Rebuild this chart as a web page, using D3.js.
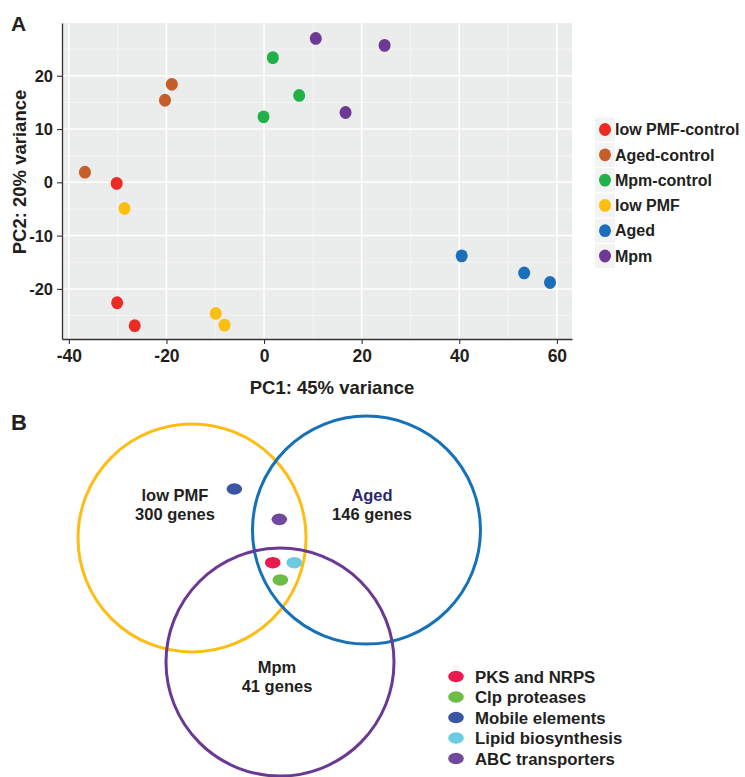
<!DOCTYPE html>
<html>
<head>
  <meta charset="UTF-8">
  <style>
    *{ margin: 0px; }
    body{ background: white; }
    svg{
      position: absolute;
      font-family: "Liberation Sans", Arial, sans-serif;
      font-weight: bold;
    }
  </style>
  <script src="https://d3js.org/d3.v7.min.js"></script>
</head>
<body>
  <svg id="fig" width="745" height="777"></svg>

  <script>
    // ---- panel A data (PCA) ----
    var groups = ["low PMF-control", "Aged-control", "Mpm-control", "low PMF", "Aged", "Mpm"];
    var groupColors = ["#ee2a24", "#c55e28", "#21b14b", "#fbbf14", "#1b6eb9", "#6d3995"];

    var pointGroup = ["Aged-control", "Aged-control", "Aged-control",
      "low PMF-control", "low PMF-control", "low PMF-control",
      "low PMF", "low PMF", "low PMF",
      "Mpm-control", "Mpm-control", "Mpm-control",
      "Mpm", "Mpm", "Mpm",
      "Aged", "Aged", "Aged"];
    var pc1 = [-36.7, -20.3, -18.9, -30.2, -30.1, -26.5, -28.6, -9.9, -8.1, 1.8, -0.1, 7.2, 10.6, 24.7, 16.7, 40.5, 53.3, 58.6];
    var pc2 = [1.9, 15.4, 18.4, -0.2, -22.6, -26.9, -4.9, -24.6, -26.8, 23.4, 12.3, 16.3, 27.0, 25.7, 13.1, -13.8, -17.0, -18.8];

    var xTicks = [-40, -20, 0, 20, 40, 60];
    var yTicks = [-20, -10, 0, 10, 20];

    // ---- panel B data (Venn) ----
    var sets = ["low PMF", "Aged", "Mpm"];
    var setCounts = [300, 146, 41];
    var setColors = ["#fdbd14", "#1571b8", "#6a3994"];
    var setLabelColors = ["#231f20", "#2c2a6b", "#231f20"];

    var families = ["PKS and NRPS", "Clp proteases", "Mobile elements", "Lipid biosynthesis", "ABC transporters"];
    var familyColors = ["#ea1a4f", "#6cbc45", "#3a55a4", "#6acbe2", "#6f4a9d"];

    var svg = d3.select("#fig");
    var ink = "#231f20";

    // ================= Panel A =================
    var pl = 62, pr = 572, pt = 23, pb = 339;

    var x = d3.scaleLinear().domain([-41.4, 63.1]).range([pl, pr]);
    var y = d3.scaleLinear().domain([-29.4, 29.9]).range([pb, pt]);

    var color = d3.scaleOrdinal().domain(groups).range(groupColors);

    var panelA = svg.append("g");

    panelA.append("rect")
      .attr("x", pl).attr("y", pt)
      .attr("width", pr - pl).attr("height", pb - pt)
      .attr("fill", "#ebecec");

    // minor grid
    var xMinor = d3.range(-30, 61, 20);
    var yMinor = d3.range(-25, 30, 10);
    panelA.append("g").selectAll("line").data(xMinor).enter().append("line")
      .attr("x1", d => x(d)).attr("x2", d => x(d))
      .attr("y1", pt).attr("y2", pb)
      .attr("stroke", "#f6f6f6").attr("stroke-width", 0.8);
    panelA.append("g").selectAll("line").data(yMinor).enter().append("line")
      .attr("y1", d => y(d)).attr("y2", d => y(d))
      .attr("x1", pl).attr("x2", pr)
      .attr("stroke", "#f6f6f6").attr("stroke-width", 0.8);

    // major grid
    panelA.append("g").selectAll("line").data(xTicks).enter().append("line")
      .attr("x1", d => x(d)).attr("x2", d => x(d))
      .attr("y1", pt).attr("y2", pb)
      .attr("stroke", "white").attr("stroke-width", 1.5);
    panelA.append("g").selectAll("line").data(yTicks).enter().append("line")
      .attr("y1", d => y(d)).attr("y2", d => y(d))
      .attr("x1", pl).attr("x2", pr)
      .attr("stroke", "white").attr("stroke-width", 1.5);

    // axes (plain hyphen for negatives, like the original)
    var fmt = d => String(d);
    var xAxis = panelA.append("g")
      .attr("transform", "translate(0," + pb + ")")
      .call(d3.axisBottom(x).tickValues(xTicks).tickFormat(fmt).tickSize(5).tickPadding(6).tickSizeOuter(0));
    var yAxis = panelA.append("g")
      .attr("transform", "translate(" + pl + ",0)")
      .call(d3.axisLeft(y).tickValues(yTicks).tickFormat(fmt).tickSize(5).tickPadding(4).tickSizeOuter(0));

    [xAxis, yAxis].forEach(function(a){
      a.select(".domain").attr("stroke", "#333").attr("stroke-width", 1.3);
      a.selectAll(".tick line").attr("stroke", "#333").attr("stroke-width", 1.1);
      a.selectAll(".tick text")
        .attr("fill", ink)
        .attr("font-family", "'Liberation Sans', Arial, sans-serif")
        .attr("font-weight", "bold");
    });
    xAxis.selectAll(".tick text").attr("font-size", "17.5px");
    yAxis.selectAll(".tick text").attr("font-size", "16.5px").attr("dy", "0.34em");

    // points
    panelA.append("g").selectAll("ellipse")
      .data(pc1.map((d, i) => ({pc1: d, pc2: pc2[i], group: pointGroup[i]})))
      .enter().append("ellipse")
      .attr("cx", d => x(d.pc1))
      .attr("cy", d => y(d.pc2))
      .attr("rx", 6).attr("ry", 6.4)
      .attr("fill", d => color(d.group));

    // axis titles
    panelA.append("text")
      .attr("x", 332).attr("y", 394)
      .attr("text-anchor", "middle")
      .attr("font-size", "18.5px")
      .attr("fill", ink)
      .text("PC1: 45% variance");
    panelA.append("text")
      .attr("transform", "translate(26,172) rotate(-90)")
      .attr("text-anchor", "middle")
      .attr("font-size", "18.5px")
      .attr("fill", ink)
      .text("PC2: 20% variance");

    panelA.append("text")
      .attr("x", 11).attr("y", 31)
      .attr("font-size", "21px")
      .attr("fill", ink)
      .text("A");

    // legend A
    var legA = panelA.append("g").selectAll("g")
      .data(groups).enter().append("g")
      .attr("transform", (d, i) => "translate(595," + (129.5 + i * 25.3) + ")");
    legA.append("rect")
      .attr("x", 0).attr("y", -12)
      .attr("width", 20).attr("height", 24)
      .attr("fill", "#f2f3f3");
    legA.append("ellipse")
      .attr("cx", 10).attr("cy", 0)
      .attr("rx", 6).attr("ry", 6.4)
      .attr("fill", d => color(d));
    legA.append("text")
      .attr("x", 20).attr("y", 0)
      .attr("dy", "0.36em")
      .attr("font-size", "16px")
      .attr("fill", ink)
      .text(d => d);

    // ================= Panel B =================
    var panelB = svg.append("g");

    panelB.append("text")
      .attr("x", 11).attr("y", 430)
      .attr("font-size", "22px")
      .attr("fill", ink)
      .text("B");

    // Venn layout in circle-radius units
    var rad = 115;
    var vx = d3.scaleLinear().domain([-1, 1]).range([280 - rad, 280 + rad]);
    var vy = d3.scaleLinear().domain([-1, 1]).range([575 - rad, 575 + rad]);

    var circleX = [-0.765, 0.752, 0.0];
    var circleY = [-0.322, -0.391, 0.757];
    var labelX = [-0.913, 0.80, -0.026];
    var labelY = [-0.646, -0.646, 0.85];

    panelB.append("g").selectAll("circle")
      .data(sets).enter().append("circle")
      .attr("cx", (d, i) => vx(circleX[i]))
      .attr("cy", (d, i) => vy(circleY[i]))
      .attr("r", vx(1) - vx(0) - 1)
      .attr("fill", "none")
      .attr("stroke", (d, i) => setColors[i])
      .attr("stroke-width", 3);

    var setLabels = panelB.append("g").selectAll("text")
      .data(sets).enter().append("text")
      .attr("text-anchor", "middle")
      .attr("font-size", "16.5px")
      .attr("fill", ink);
    setLabels.append("tspan")
      .attr("x", (d, i) => vx(labelX[i]))
      .attr("y", (d, i) => vy(labelY[i]))
      .attr("fill", (d, i) => setLabelColors[i])
      .text(d => d);
    setLabels.append("tspan")
      .attr("x", (d, i) => vx(labelX[i]))
      .attr("y", (d, i) => vy(labelY[i]) + 19.5)
      .text((d, i) => setCounts[i] + " genes");

    // family dots inside the Venn
    var famX = [-0.063, 0.003, -0.397, 0.124, -0.006];
    var famY = [-0.107, 0.043, -0.748, -0.107, -0.484];
    panelB.append("g").selectAll("ellipse")
      .data(families).enter().append("ellipse")
      .attr("cx", (d, i) => vx(famX[i]))
      .attr("cy", (d, i) => vy(famY[i]))
      .attr("rx", 7.8).attr("ry", 5.8)
      .attr("fill", (d, i) => familyColors[i]);

    // legend B
    var legB = panelB.append("g").selectAll("g")
      .data(families).enter().append("g")
      .attr("transform", (d, i) => "translate(456," + (676.5 + i * 20.5) + ")");
    legB.append("ellipse")
      .attr("rx", 7.8).attr("ry", 5.8)
      .attr("fill", (d, i) => familyColors[i]);
    legB.append("text")
      .attr("x", 19).attr("dy", "0.36em")
      .attr("font-size", "16.8px")
      .attr("fill", ink)
      .text(d => d);
  </script>
</body>
</html>
